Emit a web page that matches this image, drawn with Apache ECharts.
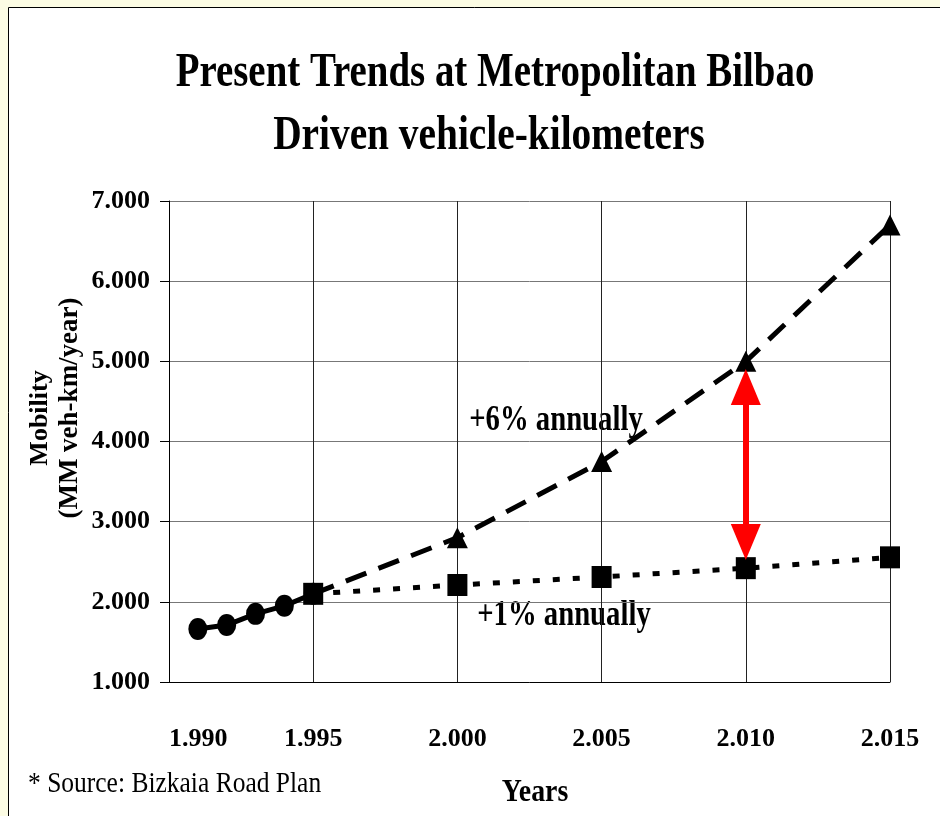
<!DOCTYPE html>
<html>
<head>
<meta charset="utf-8">
<script src="https://cdn.jsdelivr.net/npm/echarts@6/dist/echarts.min.js"></script>
<style>
  html, body { margin: 0; padding: 0; background: #fcfce4; }
  #chart { width: 940px; height: 816px; }
</style>
</head>
<body>
<div id="chart"></div>
<script>
// observed mobility 1991-1995
const obsYears = [1991, 1992, 1993, 1994, 1995];
const obsValues = [1660, 1710, 1850, 1950, 2100];
// +6% annually projection
const sixYears = [1995, 2000, 2005, 2010, 2015];
const sixValues = [2100, 2800, 3750, 5000, 6700];
// +1% annually projection
const oneYears = [1995, 2000, 2005, 2010, 2015];
const oneValues = [2100, 2210, 2310, 2420, 2555];
// red gap arrow at 2010
const gapYear = 2010;
const gapFrom = 4680;
const gapTo = 2745;

const serif = '"Liberation Serif", "Times New Roman", serif';

function pairs(xs, ys) {
    return xs.map((x, i) => [x, ys[i]]);
}
function dotted(v) {
    const s = String(v);
    return s.length > 3 ? s.slice(0, s.length - 3) + '.' + s.slice(-3) : s;
}

const chart = echarts.init(document.getElementById('chart'));

const sixData = pairs(sixYears, sixValues).map((p, i) => i === 0 ? {value: p, symbol: 'none'} : p);

const option = {
    backgroundColor: '#fcfce4',
    animation: false,
    grid: {left: 169, right: 50, top: 201, bottom: 134},
    xAxis: {
        type: 'value',
        min: 1990,
        max: 2015,
        interval: 5,
        axisLine: {lineStyle: {color: '#000', width: 1}},
        axisTick: {show: false},
        splitLine: {show: true, lineStyle: {color: '#222', width: 1}},
        axisLabel: {
            margin: 44,
            color: '#000',
            fontFamily: serif,
            fontWeight: 'bold',
            fontSize: 26,
            alignMinLabel: 'left',
            formatter: dotted
        }
    },
    yAxis: {
        type: 'value',
        min: 1000,
        max: 7000,
        interval: 1000,
        axisLine: {show: true, lineStyle: {color: '#000', width: 1}},
        axisTick: {show: true, length: 9, lineStyle: {color: '#000'}},
        splitLine: {show: true, lineStyle: {color: '#777', width: 1}},
        axisLabel: {
            margin: 19,
            color: '#000',
            fontFamily: serif,
            fontWeight: 'bold',
            fontSize: 26,
            formatter: dotted
        }
    },
    graphic: [
        {type: 'rect', z: -10, shape: {x: 8.5, y: 7.5, width: 960, height: 840},
            style: {fill: '#fff', stroke: '#000', lineWidth: 1}},
        {type: 'text', x: 495, y: 74, scaleX: 0.81,
            style: {text: 'Present Trends at Metropolitan Bilbao', font: 'bold 48px ' + serif,
                fill: '#000', textAlign: 'center', textVerticalAlign: 'middle'}},
        {type: 'text', x: 489, y: 137, scaleX: 0.82,
            style: {text: 'Driven vehicle-kilometers', font: 'bold 48px ' + serif,
                fill: '#000', textAlign: 'center', textVerticalAlign: 'middle'}},
        {type: 'text', x: 40, y: 418, rotation: Math.PI / 2,
            style: {text: 'Mobility', font: 'bold 26px ' + serif,
                fill: '#000', textAlign: 'center', textVerticalAlign: 'middle'}},
        {type: 'text', x: 70, y: 408, rotation: Math.PI / 2,
            style: {text: '(MM veh-km/year)', font: 'bold 27px ' + serif,
                fill: '#000', textAlign: 'center', textVerticalAlign: 'middle'}},
        {type: 'text', x: 556, y: 421, scaleX: 0.82,
            style: {text: '+6% annually', font: 'bold 35px ' + serif,
                fill: '#000', textAlign: 'center', textVerticalAlign: 'middle'}},
        {type: 'text', x: 564, y: 616, scaleX: 0.82,
            style: {text: '+1% annually', font: 'bold 35px ' + serif,
                fill: '#000', textAlign: 'center', textVerticalAlign: 'middle'}},
        {type: 'text', x: 535, y: 793, scaleX: 0.87,
            style: {text: 'Years', font: 'bold 32px ' + serif,
                fill: '#000', textAlign: 'center', textVerticalAlign: 'middle'}},
        {type: 'text', x: 28, y: 784, scaleX: 0.85,
            style: {text: '* Source: Bizkaia Road Plan', font: '30px ' + serif,
                fill: '#000', textAlign: 'left', textVerticalAlign: 'middle'}}
    ],
    series: [
        {
            name: '+6% annually',
            type: 'line',
            data: sixData,
            symbol: 'triangle',
            symbolSize: 21,
            showAllSymbol: true,
            itemStyle: {color: '#000'},
            lineStyle: {color: '#000', width: 5, type: [22, 13]},
            z: 3
        },
        {
            name: '+1% annually',
            type: 'line',
            data: pairs(oneYears, oneValues),
            symbol: 'rect',
            symbolSize: [20, 22],
            itemStyle: {color: '#000'},
            lineStyle: {color: '#000', width: 5, type: [7, 13]},
            z: 4,
            markLine: {
                silent: true,
                symbol: ['path://M5,0 L10,12 L0,12 Z', 'path://M5,0 L10,12 L0,12 Z'],
                symbolSize: [30, 36],
                label: {show: false},
                lineStyle: {color: '#ff0000', width: 6, type: 'solid'},
                data: [[{coord: [gapYear, gapFrom]}, {coord: [gapYear, gapTo]}]]
            }
        },
        {
            name: 'Observed',
            type: 'line',
            data: pairs(obsYears, obsValues),
            symbol: 'circle',
            symbolSize: [19, 22],
            itemStyle: {color: '#000'},
            lineStyle: {color: '#000', width: 5},
            z: 5
        }
    ]
};

chart.setOption(option);
</script>
</body>
</html>
